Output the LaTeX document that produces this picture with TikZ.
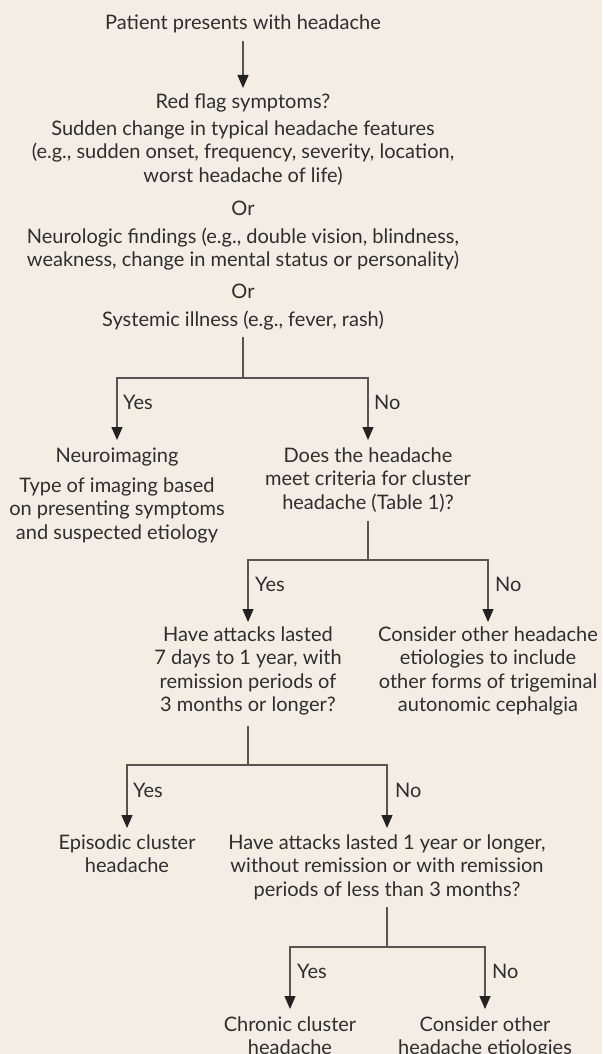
\documentclass[tikz,border=0pt]{standalone}
\usepackage{fontspec}
\setmainfont{Lato}
\usetikzlibrary{arrows.meta}
\definecolor{bg}{HTML}{F3EDE4}
\definecolor{txt}{HTML}{2E2E2E}
\definecolor{lncol}{HTML}{555555}
\definecolor{tipcol}{HTML}{222222}
\begin{document}
\begin{tikzpicture}[x=1pt,y=-1pt,
  every node/.style={font=\fontsize{20}{23.5}\selectfont, text=txt, inner sep=0pt, align=center, anchor=base},
  ln/.style={draw=lncol, line width=1.3pt},
  arr/.style={ln, -{Triangle[length=13pt,width=11pt,color=tipcol]}},
  lab/.style={anchor=base west}]
\fill[bg] (0,0) rectangle (602,1054);
\useasboundingbox (0,0) rectangle (602,1054);

% top block (multi-line nodes are placed by the baseline of their last line)
\node (start) at (243,30) {Patient presents with headache};
\node (red) at (243,109) {Red flag symptoms?};
\node (sudden) at (243,182) {Sudden change in typical headache features\\(e.g., sudden onset, frequency, severity, location,\\worst headache of life)};
\node (or1) at (243,215) {Or};
\node (neuro) at (243,266.5) {Neurologic findings (e.g., double vision, blindness,\\weakness, change in mental status or personality)};
\node (or2) at (243,298) {Or};
\node (sys) at (243,326) {Systemic illness (e.g., fever, rash)};

\draw[arr] ([yshift=-11pt]start.base) -- ([yshift=21pt]red.base);

% split 1
\coordinate (j1) at (243,378);
\draw[ln] ([yshift=-11pt]sys.base) -- (j1);
\node (img) at (117,462) {Neuroimaging};
\node (imgtype) at (117,539) {Type of imaging based\\on presenting symptoms\\and suspected etiology};
\node (q1) at (368,509) {Does the headache\\meet criteria for cluster\\headache (Table 1)?};
\draw[arr] (j1) -| ([yshift=22pt]img.base);
\draw[arr] (j1) -| ([yshift=69pt]q1.base);
\node[lab] (y1) at (123,409) {Yes};
\node[lab] (n1) at (374,409) {No};

% split 2
\coordinate (j2) at (368,560);
\draw[ln] ([yshift=-12pt]q1.base) -- (j2);
\node (a1) at (248,711.5) {Have attacks lasted\\7 days to 1 year, with\\remission periods of\\3 months or longer?};
\node (c1) at (488,711.5) {Consider other headache\\etiologies to include\\other forms of trigeminal\\autonomic cephalgia};
\draw[arr] (j2) -| ([yshift=89.5pt]a1.base);
\draw[arr] (j2) -| ([yshift=89.5pt]c1.base);
\node[lab] (y2) at (255,591) {Yes};
\node[lab] (n2) at (495,591) {No};

% split 3
\coordinate (j3) at (248,765);
\draw[ln] ([yshift=-14.5pt]a1.base) -- (j3);
\node (epi) at (127,872.5) {Episodic cluster\\headache};
\node (a2) at (387,896) {Have attacks lasted 1 year or longer,\\without remission or with remission\\periods of less than 3 months?};
\draw[arr] (j3) -| ([yshift=44.5pt]epi.base);
\draw[arr] (j3) -| ([yshift=68pt]a2.base);
\node[lab] (y3) at (133,797) {Yes};
\node[lab] (n3) at (395,797) {No};

% split 4
\coordinate (j4) at (387,947);
\draw[ln] ([yshift=-11pt]a2.base) -- (j4);
\node (chr) at (290,1054.5) {Chronic cluster\\headache};
\node (oth) at (485,1054.5) {Consider other\\headache etiologies};
\draw[arr] (j4) -| ([yshift=45.5pt]chr.base);
\draw[arr] (j4) -| ([yshift=45.5pt]oth.base);
\node[lab] (y4) at (297,978) {Yes};
\node[lab] (n4) at (492,978) {No};
\end{tikzpicture}
\end{document}
